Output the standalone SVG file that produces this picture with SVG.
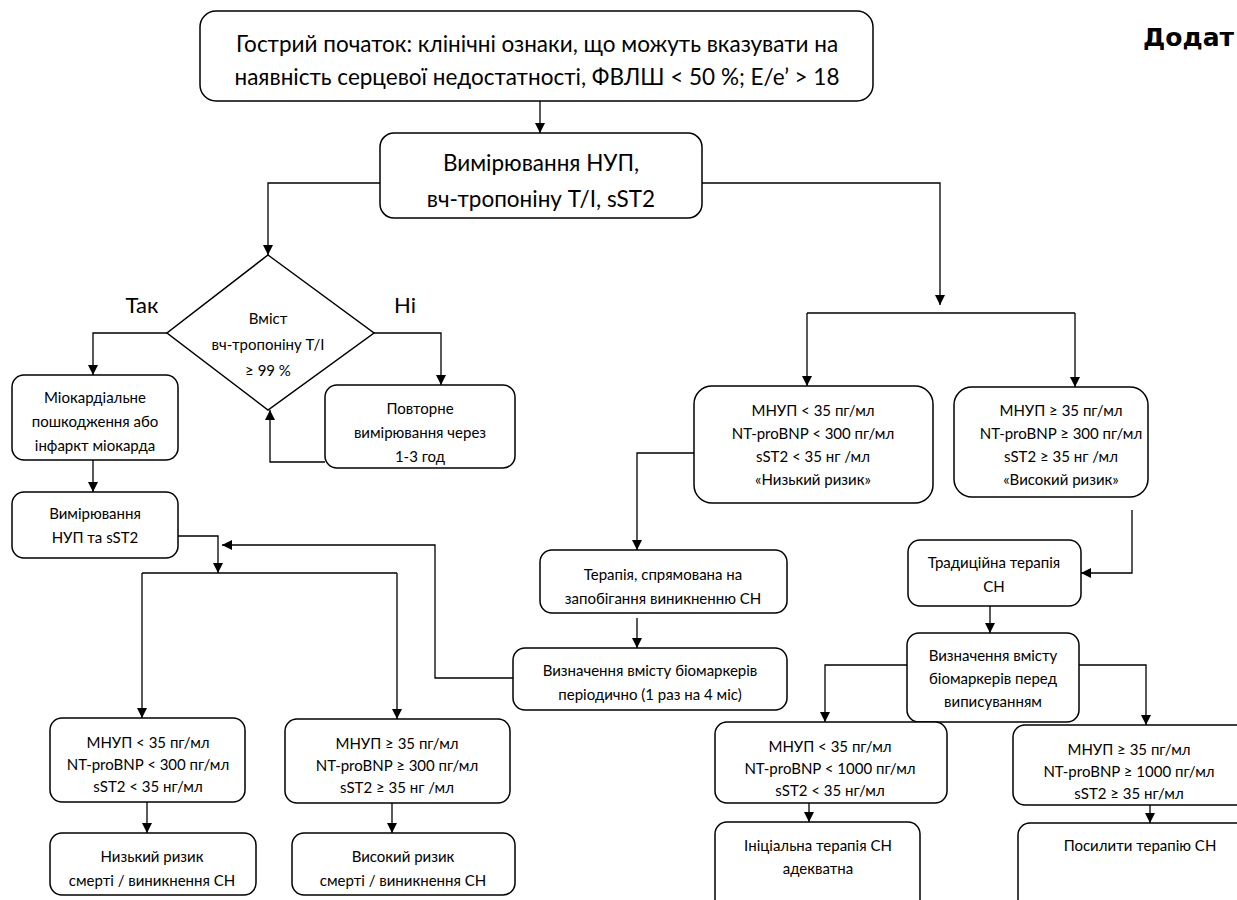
<svg xmlns="http://www.w3.org/2000/svg" width="1237" height="900" viewBox="0 0 1237 900">
<defs>
<marker id="ah" viewBox="0 0 10 10" refX="10" refY="5" markerWidth="10" markerHeight="10" markerUnits="userSpaceOnUse" orient="auto">
<path d="M0,0 L10,5 L0,10 z" fill="#000"/>
</marker>
<style>
.b{fill:#fff;stroke:#000;stroke-width:1.5}
.t{font-family:Lato,"Noto Sans",sans-serif;font-size:15px;fill:#000;text-anchor:middle}
.m{font-size:22.5px}
.l{font-size:22px}
.c{fill:none;stroke:#000;stroke-width:1.3}
</style>
</defs>
<rect width="1237" height="900" fill="#fff"/>
<text x="1143" y="46" style="font-family:'DejaVu Sans',sans-serif;font-weight:bold;font-size:25px">Додат</text>
<g id="connectors">
<path class="c" d="M540,101 V133" marker-end="url(#ah)"/>
<path class="c" d="M380,183 H268 V255" marker-end="url(#ah)"/>
<path class="c" d="M702,183 H940 V305" marker-end="url(#ah)"/>
<path class="c" d="M807,313 H1075"/>
<path class="c" d="M807,313 V386" marker-end="url(#ah)"/>
<path class="c" d="M1075,313 V387" marker-end="url(#ah)"/>
<path class="c" d="M167,333 H93 V375" marker-end="url(#ah)"/>
<path class="c" d="M374,333 H441 V385" marker-end="url(#ah)"/>
<path class="c" d="M325,462 H270 V410" marker-end="url(#ah)"/>
<path class="c" d="M93,460 V492" marker-end="url(#ah)"/>
<path class="c" d="M178,536 H218 V573" marker-end="url(#ah)"/>
<path class="c" d="M513,678 H435 V545 H222" marker-end="url(#ah)"/>
<path class="c" d="M142,573 H397"/>
<path class="c" d="M142,573 V718" marker-end="url(#ah)"/>
<path class="c" d="M397,573 V719" marker-end="url(#ah)"/>
<path class="c" d="M147,802 V833" marker-end="url(#ah)"/>
<path class="c" d="M392,803 V833" marker-end="url(#ah)"/>
<path class="c" d="M694,453 H637 V550" marker-end="url(#ah)"/>
<path class="c" d="M637,618 V648" marker-end="url(#ah)"/>
<path class="c" d="M1132,510 V573 H1081" marker-end="url(#ah)"/>
<path class="c" d="M990,606 V633" marker-end="url(#ah)"/>
<path class="c" d="M907,665 H825 V722" marker-end="url(#ah)"/>
<path class="c" d="M1079,665 H1146 V725" marker-end="url(#ah)"/>
<path class="c" d="M809,803 V822" marker-end="url(#ah)"/>
<path class="c" d="M1150,805 V823" marker-end="url(#ah)"/>
</g>
<g id="n-start">
<rect class="b" x="200" y="11" width="673" height="90" rx="16"/>
<text class="t m" x="537" y="52">Гострий початок: клінічні ознаки, що можуть вказувати на</text>
<text class="t m" x="537" y="85">наявність серцевої недостатності, ФВЛШ &lt; 50 %; Е/е’ &gt; 18</text>
</g>
<g id="n-measure">
<rect class="b" x="380" y="133" width="322" height="85" rx="14"/>
<text class="t m" x="541" y="171">Вимірювання НУП,</text>
<text class="t m" x="541" y="207">вч-тропоніну Т/І, sST2</text>
</g>
<g id="n-diamond">
<path class="b" d="M268,255 L374,333 L268,410 L167,333 Z"/>
<text class="t" x="268" y="324">Вміст</text>
<text class="t" x="268" y="350">вч-тропоніну Т/І</text>
<text class="t" x="268" y="376">≥ 99 %</text>
</g>
<text class="t l" x="142" y="313">Так</text>
<text class="t l" x="405" y="313">Ні</text>
<g id="n-myo">
<rect class="b" x="12" y="375" width="166" height="85" rx="12"/>
<text class="t" x="95" y="403">Міокардіальне</text>
<text class="t" x="95" y="427">пошкодження або</text>
<text class="t" x="95" y="451">інфаркт міокарда</text>
</g>
<g id="n-repeat">
<rect class="b" x="325" y="385" width="190" height="83" rx="12"/>
<text class="t" x="420" y="414">Повторне</text>
<text class="t" x="420" y="438">вимірювання через</text>
<text class="t" x="420" y="462">1-3 год</text>
</g>
<g id="n-nup">
<rect class="b" x="12" y="492" width="166" height="66" rx="12"/>
<text class="t" x="95" y="519">Вимірювання</text>
<text class="t" x="95" y="543">НУП та sST2</text>
</g>
<g id="n-l-low">
<rect class="b" x="50" y="718" width="195" height="84" rx="12"/>
<text class="t" x="148" y="748">МНУП &lt; 35 пг/мл</text>
<text class="t" x="148" y="770">NT-proBNP &lt; 300 пг/мл</text>
<text class="t" x="148" y="792">sST2 &lt; 35 нг/мл</text>
</g>
<g id="n-l-high">
<rect class="b" x="285" y="719" width="225" height="84" rx="12"/>
<text class="t" x="397" y="749">МНУП ≥ 35 пг/мл</text>
<text class="t" x="397" y="771">NT-proBNP ≥ 300 пг/мл</text>
<text class="t" x="397" y="793">sST2 ≥ 35 нг /мл</text>
</g>
<g id="n-l-lowrisk">
<rect class="b" x="50" y="833" width="206" height="62" rx="12"/>
<text class="t" x="152" y="862">Низький ризик</text>
<text class="t" x="152" y="886">смерті / виникнення СН</text>
</g>
<g id="n-l-highrisk">
<rect class="b" x="292" y="833" width="223" height="62" rx="12"/>
<text class="t" x="403" y="862">Високий ризик</text>
<text class="t" x="403" y="886">смерті / виникнення СН</text>
</g>
<g id="n-r-low">
<rect class="b" x="694" y="386" width="239" height="117" rx="18"/>
<text class="t" x="813" y="416">МНУП &lt; 35 пг/мл</text>
<text class="t" x="813" y="439">NT-proBNP &lt; 300 пг/мл</text>
<text class="t" x="813" y="462">sST2 &lt; 35 нг /мл</text>
<text class="t" x="813" y="485">«Низький ризик»</text>
</g>
<g id="n-r-high">
<rect class="b" x="954" y="387" width="194" height="110" rx="18"/>
<text class="t" x="1061" y="416">МНУП ≥ 35 пг/мл</text>
<text class="t" x="1061" y="439">NT-proBNP ≥ 300 пг/мл</text>
<text class="t" x="1061" y="462">sST2 ≥ 35 нг /мл</text>
<text class="t" x="1061" y="485">«Високий ризик»</text>
</g>
<g id="n-prevent">
<rect class="b" x="540" y="550" width="247" height="63" rx="12"/>
<text class="t" x="663" y="580">Терапія, спрямована на</text>
<text class="t" x="663" y="604">запобігання виникненню СН</text>
</g>
<g id="n-periodic">
<rect class="b" x="513" y="648" width="274" height="62" rx="12"/>
<text class="t" x="650" y="676">Визначення вмісту біомаркерів</text>
<text class="t" x="650" y="700">періодично (1 раз на 4 міс)</text>
</g>
<g id="n-trad">
<rect class="b" x="908" y="540" width="173" height="66" rx="12"/>
<text class="t" x="994" y="568">Традиційна терапія</text>
<text class="t" x="994" y="592">СН</text>
</g>
<g id="n-discharge">
<rect class="b" x="907" y="633" width="172" height="89" rx="12"/>
<text class="t" x="993" y="661">Визначення вмісту</text>
<text class="t" x="993" y="684">біомаркерів перед</text>
<text class="t" x="993" y="707">виписуванням</text>
</g>
<g id="n-d-low">
<rect class="b" x="715" y="722" width="232" height="81" rx="12"/>
<text class="t" x="830" y="752">МНУП &lt; 35 пг/мл</text>
<text class="t" x="830" y="774">NT-proBNP &lt; 1000 пг/мл</text>
<text class="t" x="830" y="796">sST2 &lt; 35 нг/мл</text>
</g>
<g id="n-d-high">
<rect class="b" x="1013" y="725" width="240" height="80" rx="12"/>
<text class="t" x="1129" y="755">МНУП ≥ 35 пг/мл</text>
<text class="t" x="1129" y="777">NT-proBNP ≥ 1000 пг/мл</text>
<text class="t" x="1129" y="799">sST2 ≥ 35 нг/мл</text>
</g>
<g id="n-initial">
<rect class="b" x="715" y="822" width="205" height="90" rx="12"/>
<text class="t" x="818" y="851">Ініціальна терапія СН</text>
<text class="t" x="818" y="874">адекватна</text>
</g>
<g id="n-intensify">
<rect class="b" x="1018" y="823" width="240" height="90" rx="12"/>
<text class="t" x="1140" y="851">Посилити терапію СН</text>
</g>
</svg>
